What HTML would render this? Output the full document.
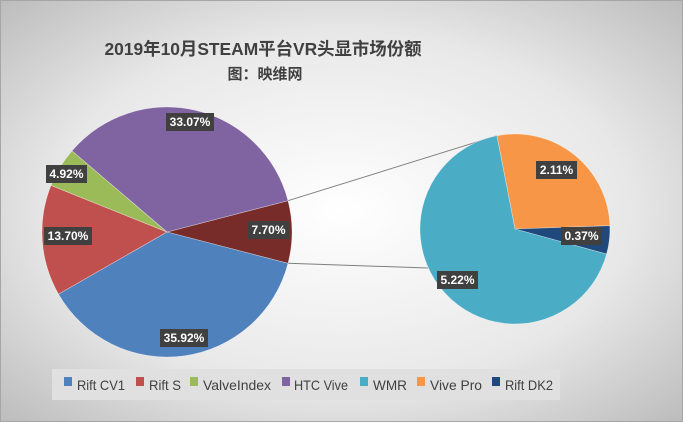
<!DOCTYPE html>
<html><head><meta charset="utf-8"><style>
html,body{margin:0;padding:0}
body{width:683px;height:422px;overflow:hidden}
</style></head><body>
<svg width="683" height="422" xmlns="http://www.w3.org/2000/svg" font-family="Liberation Sans, Noto Sans CJK SC, sans-serif">
<defs>
<radialGradient id="bg" cx="0.5" cy="0.5" r="0.7">
<stop offset="0" stop-color="#ffffff"/><stop offset="0.6" stop-color="#e8e8e8"/><stop offset="1" stop-color="#bdbdbd"/>
</radialGradient>
</defs>
<rect x="0" y="0" width="683" height="422" fill="url(#bg)"/>
<rect x="0.5" y="0.5" width="682" height="421" fill="none" stroke="#a6a6a6"/>
<text x="263" y="55" text-anchor="middle" font-size="17.5" font-weight="bold" fill="#404040" textLength="317" lengthAdjust="spacingAndGlyphs">2019年10月STEAM平台VR头显市场份额</text>
<text x="265" y="79" text-anchor="middle" font-size="15" font-weight="bold" fill="#404040">图：映维网</text>

<line x1="288" y1="200.7" x2="497" y2="135.7" stroke="#7f7f7f" stroke-width="1"/>
<line x1="288" y1="263.3" x2="428" y2="268" stroke="#7f7f7f" stroke-width="1"/>

<g stroke="#ffffff" stroke-width="0.6" stroke-opacity="0.5">
<path d="M167,232 L288,200.7 A125,125 0 0 1 288,263.3 Z" fill="#772c2a"/>
<path d="M167,232 L288,263.3 A125,125 0 0 1 58.5,294.1 Z" fill="#4f81bd"/>
<path d="M167,232 L58.5,294.1 A125,125 0 0 1 51,185.4 Z" fill="#c0504d"/>
<path d="M167,232 L51,185.4 A125,125 0 0 1 72,150.8 Z" fill="#9bbb59"/>
<path d="M167,232 L72,150.8 A125,125 0 0 1 288,200.7 Z" fill="#8064a2"/>

<path d="M515,229 L496.9,135.7 A95,95 0 0 1 609.9,225.7 Z" fill="#f79646"/>
<path d="M515,229 L609.9,225.7 A95,95 0 0 1 606.6,254.1 Z" fill="#1f497d"/>
<path d="M515,229 L606.6,254.1 A95,95 0 1 1 496.9,135.7 Z" fill="#4bacc6"/>
</g>

<g font-size="12" font-weight="bold" fill="#fff" text-anchor="middle">
<rect x="166" y="113" width="48" height="18" fill="#404040"/><text x="190" y="126">33.07%</text>
<rect x="46" y="165" width="41" height="18" fill="#404040"/><text x="66.5" y="178">4.92%</text>
<rect x="44" y="227" width="48" height="18" fill="#404040"/><text x="68" y="240">13.70%</text>
<rect x="248" y="221" width="41" height="18" fill="#404040"/><text x="268.5" y="234">7.70%</text>
<rect x="160" y="329" width="48" height="18" fill="#404040"/><text x="184" y="342">35.92%</text>
<rect x="536" y="161" width="41" height="18" fill="#404040"/><text x="556.5" y="174">2.11%</text>
<rect x="561" y="227" width="41" height="18" fill="#404040"/><text x="581.5" y="240">0.37%</text>
<rect x="437" y="271" width="41" height="18" fill="#404040"/><text x="457.5" y="284">5.22%</text>
</g>

<rect x="52" y="369" width="508" height="31" fill="#e0e0e0"/>
<g font-size="14" fill="#404040">
<rect x="64" y="377" width="8" height="9" fill="#4f81bd"/><text x="77" y="390" textLength="48" lengthAdjust="spacingAndGlyphs">Rift CV1</text>
<rect x="136" y="377" width="8" height="9" fill="#c0504d"/><text x="149" y="390" textLength="32" lengthAdjust="spacingAndGlyphs">Rift S</text>
<rect x="190" y="377" width="8" height="9" fill="#9bbb59"/><text x="203" y="390" textLength="68" lengthAdjust="spacingAndGlyphs">ValveIndex</text>
<rect x="282" y="377" width="8" height="9" fill="#8064a2"/><text x="294" y="390" textLength="54" lengthAdjust="spacingAndGlyphs">HTC Vive</text>
<rect x="360" y="377" width="8" height="9" fill="#4bacc6"/><text x="373" y="390" textLength="34" lengthAdjust="spacingAndGlyphs">WMR</text>
<rect x="417" y="377" width="8" height="9" fill="#f79646"/><text x="430" y="390" textLength="52" lengthAdjust="spacingAndGlyphs">Vive Pro</text>
<rect x="492" y="377" width="8" height="9" fill="#1f497d"/><text x="505" y="390" textLength="48" lengthAdjust="spacingAndGlyphs">Rift DK2</text>
</g>
</svg>
</body></html>
